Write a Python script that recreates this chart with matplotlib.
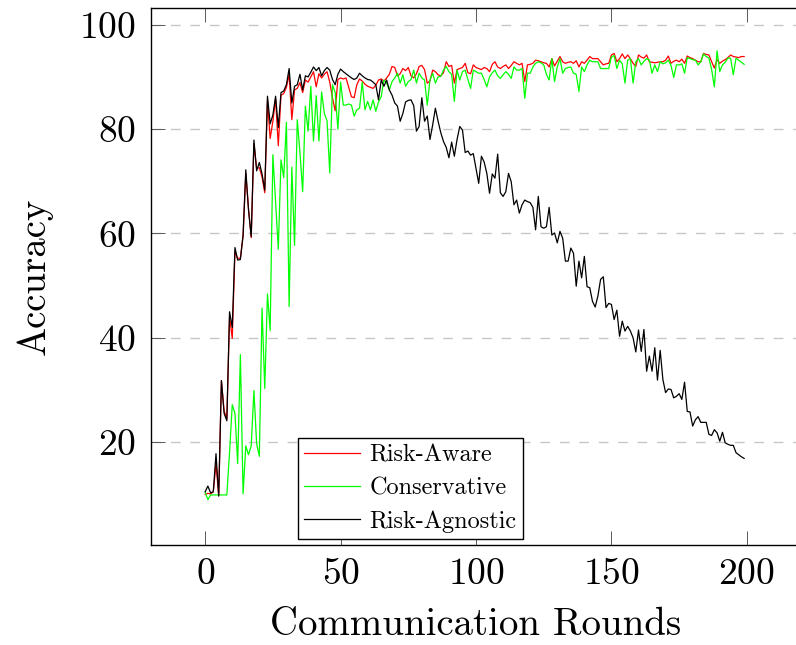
import numpy as np
import matplotlib
matplotlib.use('Agg')
import matplotlib.pyplot as plt

plt.rcParams['font.family'] = 'cmr10'
plt.rcParams['mathtext.fontset'] = 'cm'
plt.rcParams['axes.formatter.use_mathtext'] = True

rounds = np.arange(200)

risk_aware = [
    10.0, 10.2, 10.1, 10.5, 15.9, 9.7, 31.8, 26.0, 24.5, 44.0,
    39.9, 56.5, 55.2, 55.3, 59.5, 71.5, 64.8, 59.2, 77.2, 72.5,
    72.6, 70.8, 67.8, 85.5, 78.2, 81.5, 85.8, 76.8, 86.5, 86.8,
    88.0, 90.5, 81.8, 87.5, 87.8, 88.9, 87.0, 89.4, 89.0, 90.0,
    91.0, 88.1, 90.6, 89.8, 90.5, 91.0, 89.0, 86.0, 83.5, 89.5,
    89.8, 89.6, 89.8, 88.0, 86.2, 86.0, 88.5, 89.6, 89.2, 88.6,
    88.2, 88.0, 87.8, 88.4, 89.4, 89.6, 89.2, 89.8, 90.5, 92.0,
    91.8, 90.2, 90.6, 91.6, 91.2, 91.8, 90.2, 89.8, 90.6, 92.0,
    92.2, 91.4, 88.8, 89.2, 91.3, 91.0, 90.4, 90.2, 90.8, 92.9,
    92.0, 92.2, 88.8, 91.4, 91.6, 91.8, 92.6, 90.8, 90.6, 92.3,
    91.8, 91.6, 91.4, 91.8, 91.6, 91.0, 92.4, 92.9, 91.9, 91.6,
    92.0, 92.3, 91.6, 92.2, 92.9, 92.6, 92.3, 92.6, 89.1, 92.3,
    92.4, 92.6, 93.2, 93.1, 92.9, 92.7, 92.6, 91.9, 93.5, 92.1,
    93.0, 93.9, 92.9, 92.6, 92.8, 92.9, 92.6, 93.1, 91.9, 92.9,
    92.6, 93.2, 93.9, 93.5, 93.5, 93.5, 92.9, 92.3, 92.5, 92.6,
    94.2, 94.5, 92.9, 93.5, 94.4, 93.5, 94.2, 93.5, 92.6, 92.0,
    94.2, 93.8, 93.6, 94.2, 92.9, 92.8, 92.7, 92.8, 92.9, 92.9,
    93.2, 94.0, 92.6, 93.0, 93.2, 92.9, 93.4, 92.6, 94.0, 93.7,
    93.5, 93.2, 92.9, 92.9, 94.5, 94.3, 94.2, 92.9, 91.7, 93.3,
    92.6, 93.0, 93.3, 93.7, 94.2, 93.9, 93.8, 93.7, 93.9, 93.9,
]

conservative = [
    10.4, 9.0, 9.9, 9.9, 9.9, 9.9, 9.9, 9.9, 9.9, 18.0,
    27.2, 25.5, 15.9, 36.8, 10.1, 19.3, 17.6, 19.3, 29.9, 19.7,
    17.3, 45.7, 30.3, 48.4, 41.4, 75.1, 66.0, 57.0, 74.1, 70.7,
    81.3, 46.0, 72.7, 57.7, 81.8, 75.5, 68.0, 84.4, 79.6, 88.2,
    77.7, 86.4, 77.7, 87.1, 83.0, 81.6, 71.6, 88.5, 87.0, 80.0,
    89.0, 84.6, 84.6, 84.8, 84.6, 82.5, 83.7, 84.0, 89.0, 83.7,
    85.3, 83.7, 85.6, 83.4, 85.2, 86.2, 89.4, 88.8, 87.5, 89.1,
    89.8, 90.7, 88.8, 90.4, 88.2, 89.1, 89.5, 91.3, 88.8, 90.7,
    89.8, 89.4, 84.6, 89.4, 90.7, 88.8, 90.0, 90.1, 91.3, 92.0,
    91.0, 90.5, 85.3, 91.3, 89.4, 91.0, 91.3, 89.5, 87.8, 91.3,
    91.0, 90.7, 90.7, 89.5, 88.1, 90.0, 90.8, 91.3, 90.2, 89.7,
    90.4, 91.0, 90.5, 89.7, 91.9, 91.3, 91.3, 91.6, 85.9, 90.7,
    90.7, 91.9, 92.6, 92.9, 92.7, 92.3, 90.5, 89.4, 93.5, 89.1,
    91.9, 93.5, 90.7, 91.6, 91.8, 91.9, 90.7, 90.5, 87.2, 91.9,
    91.0, 92.3, 93.2, 92.9, 92.9, 92.9, 91.6, 91.6, 91.6, 91.6,
    93.8, 94.1, 91.6, 93.2, 92.5, 88.8, 93.2, 93.5, 88.8, 92.9,
    93.5, 92.3, 93.0, 93.5, 93.2, 90.7, 92.3, 91.0, 92.9, 92.5,
    92.7, 93.2, 92.2, 89.9, 92.3, 92.3, 92.5, 90.7, 93.7, 93.5,
    93.3, 93.2, 92.3, 92.9, 94.4, 93.9, 93.6, 91.4, 88.1, 95.0,
    91.0, 92.3, 92.8, 93.6, 93.6, 90.4, 93.6, 93.2, 92.8, 92.4,
]

risk_agnostic = [
    10.5, 11.6, 10.3, 10.5, 17.8, 9.7, 31.8, 25.5, 24.1, 45.0,
    42.0, 57.3, 54.9, 55.0, 59.7, 72.2, 64.5, 59.4, 77.9, 72.0,
    73.6, 71.4, 68.3, 86.3, 81.0, 82.7, 86.3, 80.3, 87.0, 87.3,
    88.5, 91.6, 85.0, 88.2, 88.5, 90.5, 87.5, 90.2, 90.0, 90.9,
    91.9, 91.2, 91.8, 90.2, 91.2, 91.8, 91.3, 89.5, 88.5, 90.5,
    91.5, 91.0, 90.6, 90.2, 89.8, 89.5, 89.8, 90.7, 90.2, 89.8,
    89.5, 89.4, 89.0, 88.5, 85.6, 89.4, 88.2, 89.4, 87.5, 86.5,
    85.0, 84.4, 81.5, 83.0, 85.2, 85.5, 85.6, 84.5, 79.6, 80.5,
    86.0, 81.5, 82.5, 78.0, 80.8, 84.0, 81.5, 79.3, 77.6, 76.5,
    74.5, 77.5, 74.8, 78.0, 80.5, 79.8, 75.5, 75.8, 75.0, 75.3,
    72.5, 69.6, 74.8, 73.7, 71.5, 67.7, 71.4, 70.6, 75.2, 67.8,
    67.1, 68.0, 71.5, 69.9, 65.5, 66.4, 63.9, 65.5, 66.4, 66.1,
    65.9, 65.0, 60.7, 67.1, 61.3, 61.0, 61.3, 65.0, 59.7, 60.1,
    58.2, 60.4, 59.1, 54.7, 54.7, 57.2, 56.2, 49.9, 54.7, 51.5,
    55.6, 49.8, 49.6, 47.0, 45.9, 48.0, 51.2, 51.7, 45.8, 46.6,
    46.4, 43.5, 45.3, 40.3, 43.2, 41.3, 42.2, 41.3, 40.0, 37.3,
    41.5, 37.4, 41.6, 33.6, 36.5, 33.6, 38.1, 31.9, 37.6, 32.0,
    29.5, 30.2, 30.1, 28.5, 28.8, 29.3, 28.2, 31.5, 25.9, 25.8,
    23.1, 24.3, 24.9, 23.8, 23.8, 23.8, 21.5, 21.3, 22.4, 21.8,
    20.2, 21.9, 19.9, 19.6, 19.4, 19.4, 18.0, 17.6, 17.2, 16.9,
]

y_ticks = [20, 40, 60, 80, 100]
x_ticks = [0, 50, 100, 150, 200]

fig = plt.figure(figsize=(7.96, 6.45), dpi=100)
ax = fig.add_axes([0.1897, 0.155, 0.8166, 0.8326])

ax.plot(rounds, risk_aware, color=(1, 0, 0), lw=0.9, label='Risk-Aware')
ax.plot(rounds, conservative, color=(0, 1, 0), lw=0.9, label='Conservative')
ax.plot(rounds, risk_agnostic, color='black', lw=0.9, label='Risk-Agnostic')

ax.set_xlim(-20, 220)
ax.set_ylim(0.3, 103.2)
ax.set_xticks(x_ticks)
ax.set_yticks(y_ticks)

ax.yaxis.grid(True, color='0.78', lw=1.0, dashes=(7, 7))
ax.set_axisbelow(True)

ax.tick_params(axis='both', direction='in', length=10, width=0.7,
               color='0.35', labelsize=27)
ax.tick_params(axis='x', top=True, pad=9)
ax.tick_params(axis='y', pad=11)
for s in ax.spines.values():
    s.set_linewidth(1.0)

ax.set_xlabel('Communication Rounds', fontsize=28, labelpad=12)
ax.set_ylabel('Accuracy', fontsize=28, labelpad=19)

leg = ax.legend(loc='lower left', bbox_to_anchor=(0.2262, 0.0112),
                borderaxespad=0, fontsize=17.5, handlelength=2.3,
                handletextpad=0.4, labelspacing=0.45, borderpad=0.25,
                fancybox=False, framealpha=1, edgecolor='black')
leg.get_frame().set_linewidth(1.0)

fig.savefig('out.png', dpi=100)
